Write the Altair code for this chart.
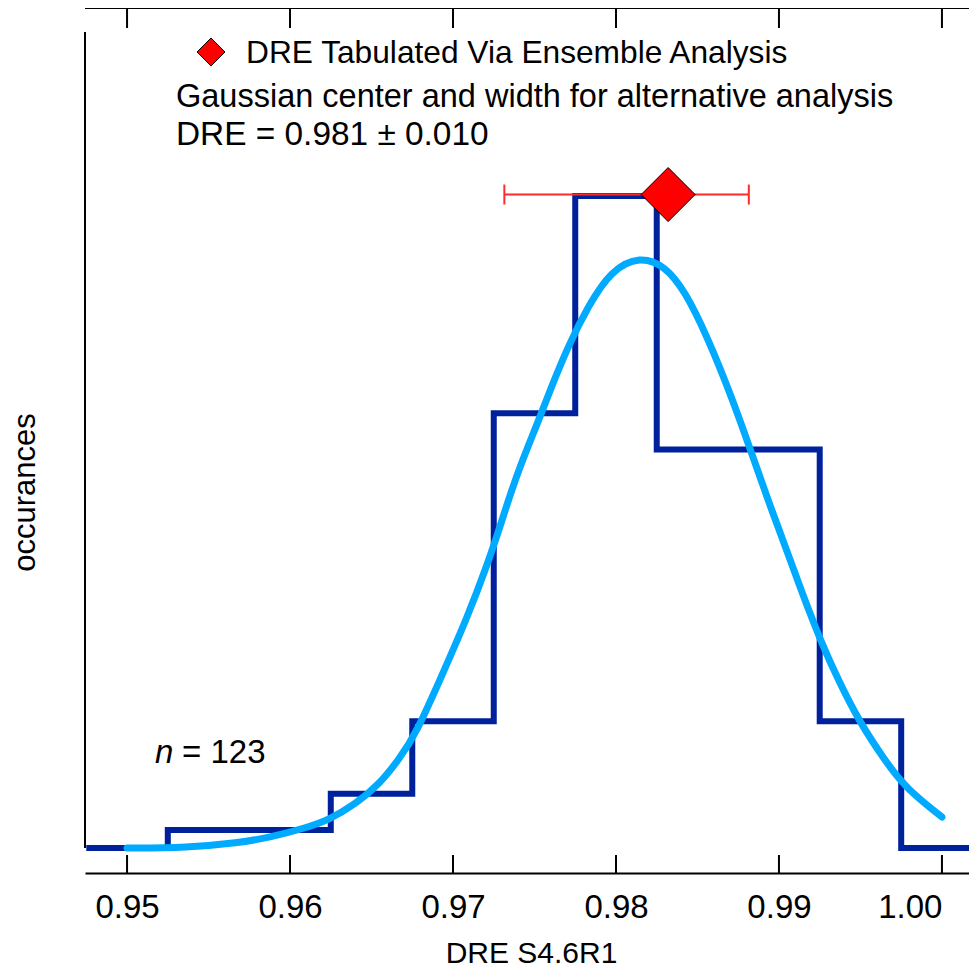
import altair as alt
import pandas as pd

FONT = "Liberation Sans"

# Histogram (bin left edges and counts), n = 123
bin_edges = [0.9475, 0.9525, 0.9575, 0.9625, 0.9675, 0.9725, 0.9775, 0.9825, 0.9875, 0.9925, 0.9975, 1.0025]
counts = [0, 1, 1, 3, 7, 24, 36, 22, 22, 7, 0]

# Gaussian curve
curve_x = [0.9500, 0.95368, 0.95681, 0.95883, 0.96092, 0.96239, 0.96405, 0.96546, 0.96669, 0.96773,
           0.96945, 0.97086, 0.97209, 0.97294, 0.97393, 0.97521, 0.97601, 0.97706, 0.97828, 0.97969,
           0.98147, 0.98301, 0.98423, 0.98564, 0.98712, 0.98834, 0.98933, 0.99037, 0.99141, 0.99264,
           0.99368, 0.99491, 0.99656, 0.99779, 1.0000]
curve_y = [0.0, 0.02, 0.28, 0.60, 1.10, 1.55, 2.45, 3.50, 4.90, 6.30,
           9.80, 12.70, 15.60, 17.90, 20.70, 23.50, 25.40, 27.70, 29.90, 31.90,
           32.69, 32.14, 30.76, 28.16, 24.85, 21.75, 19.20, 16.70, 14.10, 11.25,
           9.20, 7.00, 4.75, 3.30, 1.71]

# Ensemble analysis marker with error bar
ens_x = [0.9832]
ens_y = [36.08]
err_lo = [0.97315]
err_hi = [0.98815]

tick_values = [0.95, 0.96, 0.97, 0.98, 0.99, 1.00]

X_DOMAIN = [0.94742, 1.00166]
Y_DOMAIN = [-1.38, 46.38]
W, H = 884, 865

hist_df = pd.DataFrame({"x": bin_edges, "y": counts + [counts[-1]]})
curve_df = pd.DataFrame({"x": curve_x, "y": curve_y})
ens_df = pd.DataFrame({"x": ens_x, "y": ens_y, "lo": err_lo, "hi": err_hi})
cap_df = pd.DataFrame({"x": err_lo + err_hi, "y": ens_y + ens_y})
tick_df = pd.DataFrame({"x": tick_values})

xscale = alt.Scale(domain=X_DOMAIN, nice=False, zero=False)
yscale = alt.Scale(domain=Y_DOMAIN, nice=False, zero=False)

x_axis = alt.Axis(values=tick_values, format=".2f", labelFontSize=33, labelFont=FONT,
                  labelColor="black", labelPadding=44, labelBaseline="alphabetic",
                  labelFlush=30, labelOverlap=False, ticks=False, tickSize=0,
                  domain=True, domainColor="black", domainWidth=2, grid=False,
                  title="DRE S4.6R1", titleFontSize=30, titleFont=FONT, titleFontWeight="normal",
                  titleColor="black", titleX=446, titleY=89, titleBaseline="alphabetic",
                  titleAlign="center")
y_axis = alt.Axis(labels=False, ticks=False, domain=False, grid=False,
                  title="occurances", titleFontSize=31, titleFont=FONT, titleFontWeight="normal",
                  titleColor="black", titleAngle=270, titleX=-60, titleY=484,
                  titleBaseline="middle", titleAlign="center")

hist = alt.Chart(hist_df).mark_line(
    interpolate="step-after", color="#00219C", strokeWidth=6, clip=True, strokeJoin="miter"
).encode(
    x=alt.X("x:Q", scale=xscale, axis=x_axis),
    y=alt.Y("y:Q", scale=yscale, axis=y_axis),
)

curve = alt.Chart(curve_df).mark_line(
    interpolate="basis", color="#00AAFF", strokeWidth=7, strokeCap="round"
).encode(x=alt.X("x:Q", scale=xscale), y=alt.Y("y:Q", scale=yscale))

errbar = alt.Chart(ens_df).mark_rule(color="#FF2A2A", strokeWidth=2).encode(
    x=alt.X("lo:Q", scale=xscale), x2="hi:Q", y=alt.Y("y:Q", scale=yscale)
)
caps = alt.Chart(cap_df).mark_tick(color="#FF2A2A", orient="vertical", size=20,
                                   thickness=2, opacity=1).encode(
    x=alt.X("x:Q", scale=xscale), y=alt.Y("y:Q", scale=yscale)
)
diamond = alt.Chart(ens_df).mark_point(shape="diamond", filled=True, size=2916, fill="#FF0000",
                                       stroke="black", strokeWidth=1, opacity=1).encode(
    x=alt.X("x:Q", scale=xscale), y=alt.Y("y:Q", scale=yscale)
)

# axis decorations: inward ticks, top frame line, shortened left line
bottom_ticks = alt.Chart(tick_df).mark_rule(color="black", strokeWidth=2).encode(
    x=alt.X("x:Q", scale=xscale), y=alt.value(H), y2=alt.value(H - 18)
)
top_ticks = alt.Chart(tick_df).mark_rule(color="black", strokeWidth=2).encode(
    x=alt.X("x:Q", scale=xscale), y=alt.value(0), y2=alt.value(20)
)
frame_df = pd.DataFrame({"k": [0]})
top_line = alt.Chart(frame_df).mark_rule(color="black", strokeWidth=2).encode(
    x=alt.value(0), x2=alt.value(W), y=alt.value(0)
)
left_line = alt.Chart(frame_df).mark_rule(color="black", strokeWidth=2).encode(
    x=alt.value(0), y=alt.value(24), y2=alt.value(840)
)

# legend / annotations
legend_mark = alt.Chart(frame_df).mark_point(shape="diamond", filled=True, size=784, fill="#FF0000",
                                             stroke="black", strokeWidth=1, opacity=1).encode(
    x=alt.value(126), y=alt.value(44)
)


def label(text, x, y, size, style="normal"):
    return alt.Chart(frame_df).mark_text(
        text=text, align="left", baseline="middle", font=FONT, fontSize=size,
        fontStyle=style, color="black"
    ).encode(x=alt.value(x), y=alt.value(y))


texts = [
    label("DRE Tabulated Via Ensemble Analysis", 161, 45, 31.7),
    label("Gaussian center and width for alternative analysis", 91, 89, 32.5),
    label("DRE = 0.981 ± 0.010", 91, 127, 33.4),
    label("n", 70, 745, 33, "italic"),
    label("= 123", 97, 745, 33),
]

chart = alt.layer(
    hist, curve, errbar, caps, diamond, bottom_ticks, top_ticks, top_line, left_line,
    legend_mark, *texts
).properties(
    width=W, height=H,
    autosize=alt.AutoSizeParams(type="none"),
    padding={"left": 77, "top": 0, "right": 0, "bottom": 95},
    background="white",
).configure_view(stroke=None)

chart.save("out.html", embed_options={"renderer": "svg", "actions": False})
